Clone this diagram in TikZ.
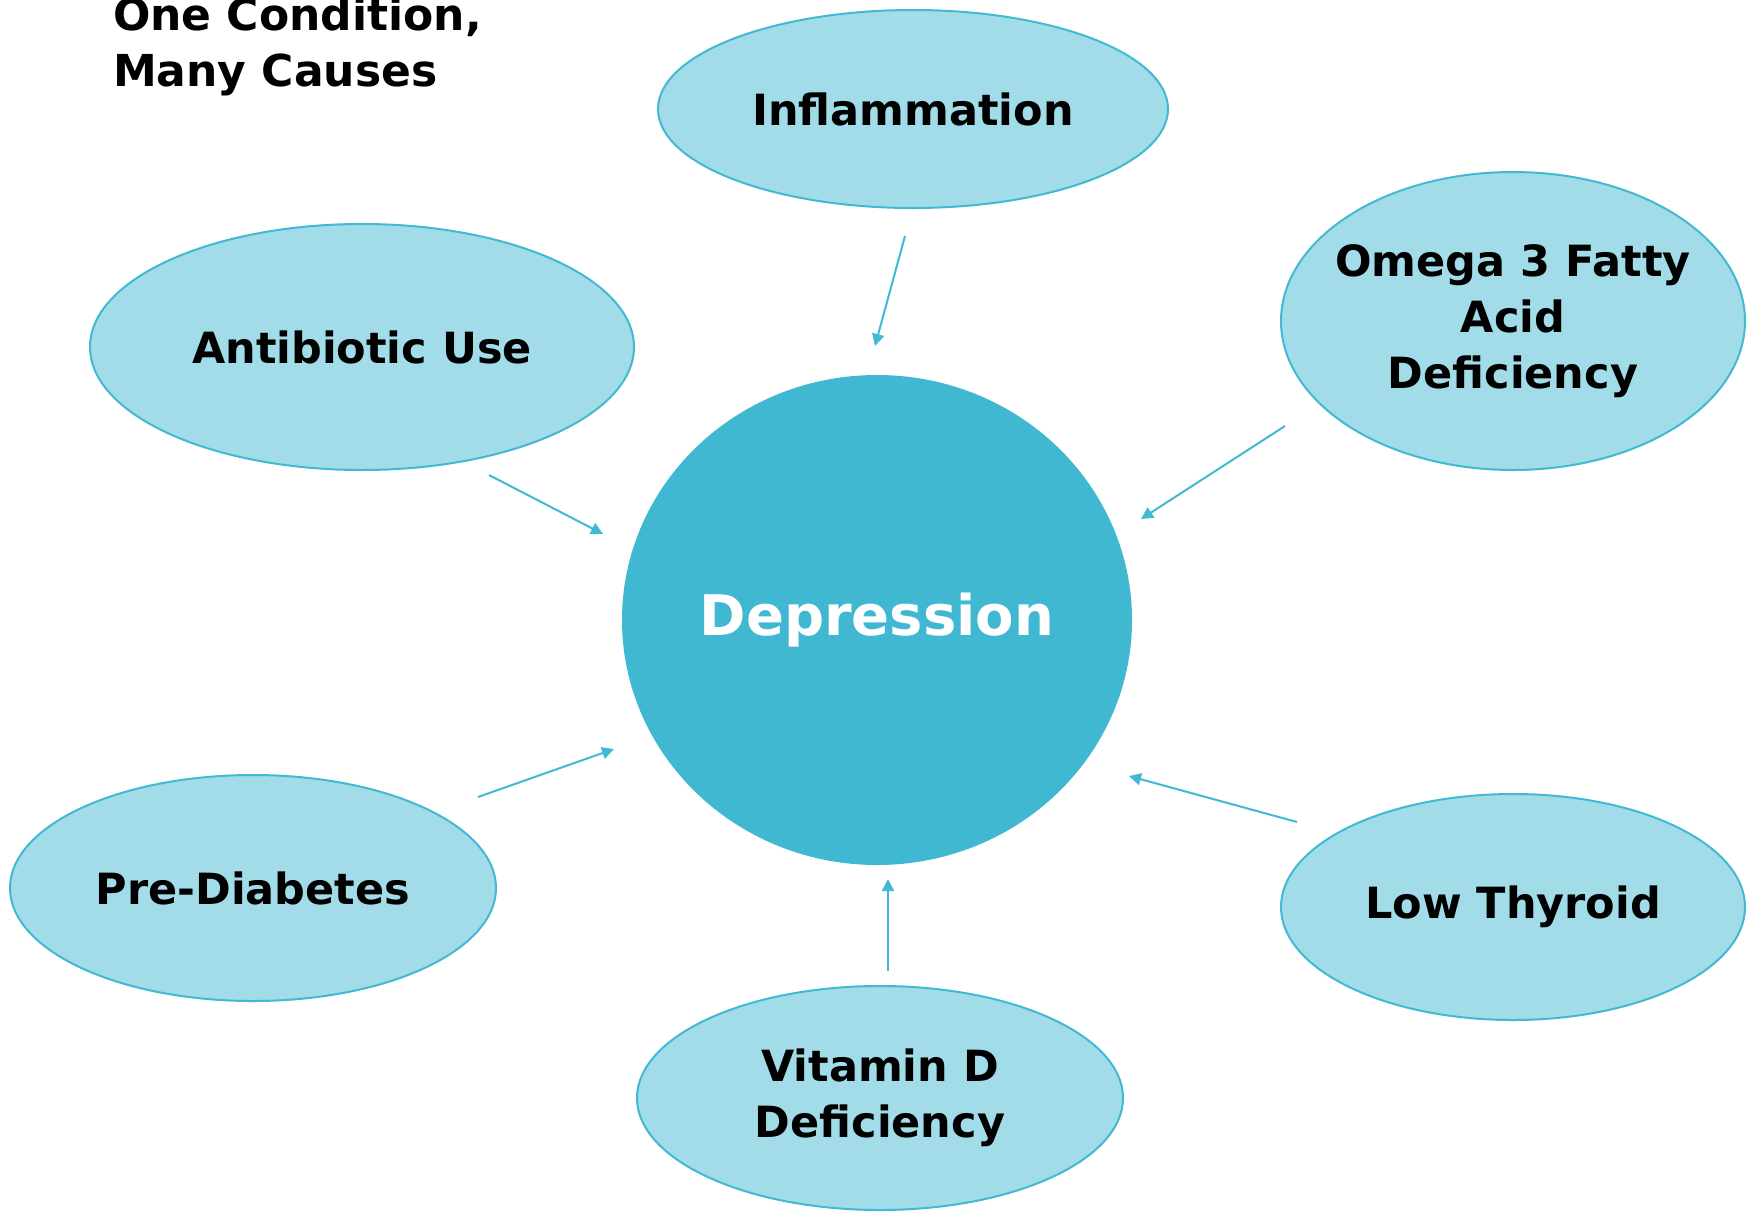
\documentclass[tikz,border=0pt]{standalone}
\usepackage{fontspec}
\setmainfont{DejaVu Sans}
\usetikzlibrary{shapes.geometric,arrows.meta}

\definecolor{causefill}{HTML}{A1DCE8}
\definecolor{causeline}{HTML}{42B9D3}
\definecolor{centrefill}{HTML}{41B8D2}

\tikzset{every picture/.style={line width=1pt}}
\tikzset{
  cause/.style={ellipse,draw=causeline,fill=causefill,inner sep=0pt,align=center,
    font=\fontsize{21.5}{28}\selectfont\bfseries},
  causearrow/.style={draw=causeline,line width=1pt,-{Triangle[width=6pt,length=6pt]}}
}

\begin{document}
\begin{tikzpicture}[x=0.5pt,y=0.5pt,yscale=-1,xscale=1]
        \useasboundingbox (0,0) rectangle (1756,1211);

        %Title
        \node[anchor=north west,align=left,inner sep=0pt,font=\fontsize{22}{28}\selectfont\bfseries] (title) at (112,-4) {One Condition,\\Many Causes};

        %Centre circle
        \node[ellipse,fill=centrefill,minimum width=255pt,minimum height=245pt,inner sep=0pt,text=white,
          font=\fontsize{28}{34}\selectfont\bfseries] (dep) at (877,620) {Depression};

        %Causes
        \node[cause,minimum width=255pt,minimum height=99pt] (infl) at (913,109) {Inflammation};
        \node[cause,minimum width=272pt,minimum height=123pt] (anti) at (362,347) {Antibiotic Use};
        \node[cause,inner xsep=-40pt,inner ysep=-20pt,minimum width=232pt,minimum height=149pt] (omega) at (1513,321) {Omega 3 Fatty\\Acid\\Deficiency};
        \node[cause,minimum width=243pt,minimum height=113pt] (prediab) at (253,888) {Pre-Diabetes};
        \node[cause,minimum width=232pt,minimum height=113pt] (thyroid) at (1513,907) {Low Thyroid};
        \node[cause,minimum width=243pt,minimum height=112pt] (vitd) at (880,1098) {Vitamin D\\Deficiency};

        %Arrow ends
        \coordinate (infl-s) at (905,236);   \coordinate (infl-e) at (875,346);
        \coordinate (anti-s) at (489,475);   \coordinate (anti-e) at (603,534);
        \coordinate (omega-s) at (1285,426); \coordinate (omega-e) at (1141,519);
        \coordinate (pre-s) at (478,797);    \coordinate (pre-e) at (614,749);
        \coordinate (thy-s) at (1297,822);   \coordinate (thy-e) at (1129,776);
        \coordinate (vit-s) at (888,971);    \coordinate (vit-e) at (888,879);

        \draw[causearrow] (infl-s) -- (infl-e);
        \draw[causearrow] (anti-s) -- (anti-e);
        \draw[causearrow] (omega-s) -- (omega-e);
        \draw[causearrow] (pre-s) -- (pre-e);
        \draw[causearrow] (thy-s) -- (thy-e);
        \draw[causearrow] (vit-s) -- (vit-e);

\end{tikzpicture}
\end{document}
